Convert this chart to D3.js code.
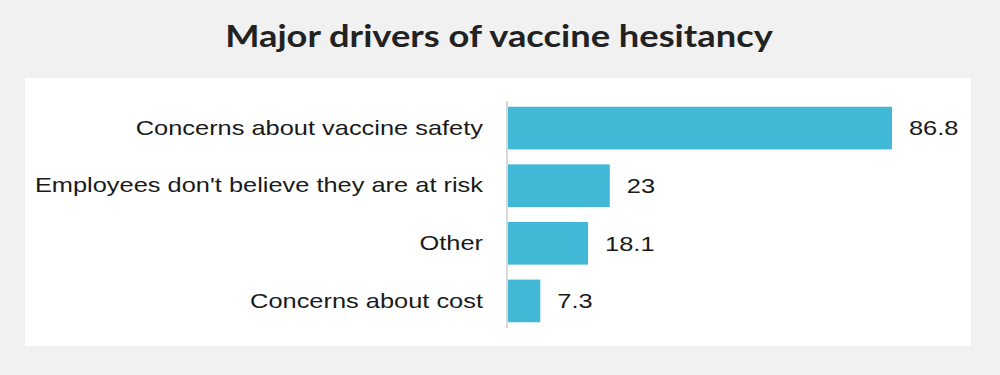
<!DOCTYPE html>
<html>
<head>
<meta charset="utf-8">
<script src="https://cdn.jsdelivr.net/npm/d3@7"></script>
<style>
	body { margin: 0; background: #f1f1f1; }
	svg { display: block; }
</style>
</head>
<body>
<div id="chart"></div>
<script>
var categories = ["Concerns about vaccine safety", "Employees don't believe they are at risk", "Other", "Concerns about cost"];
var values = [86.8, 23, 18.1, 7.3];
var title = "Major drivers of vaccine hesitancy";

var width = 1000, height = 375;
// the picture's text is a bit wide for its height, so stretch it
var stretch = 1.21;

var svg = d3.select('#chart').append('svg')
	.attr('width', width)
	.attr('height', height);

svg.append('rect')
	.attr('width', width).attr('height', height)
	.attr('fill', '#f1f1f1');

// white panel
svg.append('rect')
	.attr('x', 25).attr('y', 78)
	.attr('width', 946).attr('height', 268)
	.attr('fill', '#ffffff');

svg.append('text')
	.attr('transform', 'translate(499,47) scale(' + stretch + ',1)')
	.attr('text-anchor', 'middle')
	.attr('font-family', 'Lato, sans-serif')
	.attr('font-weight', 'bold')
	.attr('font-size', 30)
	.attr('fill', '#222')
	.text(title);

var x = d3.scaleLinear().domain([0, 86.8]).range([508, 892]);
var y = d3.scaleBand().domain(categories).range([101, 328]).paddingInner(0.26).paddingOuter(0.1);

svg.selectAll('rect.bar')
	.data(values)
	.enter().append('rect')
	.attr('class', 'bar')
	.attr('x', x(0))
	.attr('y', function(d, i) { return y(categories[i]); })
	.attr('width', function(d) { return x(d) - x(0); })
	.attr('height', y.bandwidth())
	.attr('fill', '#41b8d5');

// category axis
var axis = svg.append('g')
	.attr('transform', 'translate(' + 507 + ',0)')
	.call(d3.axisLeft(y).tickSize(0));
axis.select('.domain').attr('stroke', '#cccccc').attr('stroke-width', 1.5).attr('d', 'M0,101V328');
axis.selectAll('text')
	.attr('x', -24 / stretch)
	.attr('transform', 'scale(' + stretch + ',1)')
	.attr('font-family', 'Liberation Sans, Arial, sans-serif')
	.attr('font-size', 21)
	.attr('fill', '#1a1a1a');

svg.selectAll('text.val')
	.data(values)
	.enter().append('text')
	.attr('class', 'val')
	.attr('transform', function(d, i) {
		return 'translate(' + (x(d) + 17) + ',' + (y(categories[i]) + y.bandwidth() / 2) + ') scale(' + stretch + ',1)';
	})
	.attr('dy', '0.35em')
	.attr('font-family', 'Liberation Sans, Arial, sans-serif')
	.attr('font-size', 21)
	.attr('fill', '#1a1a1a')
	.text(function(d) { return d; });
</script>
</body>
</html>
